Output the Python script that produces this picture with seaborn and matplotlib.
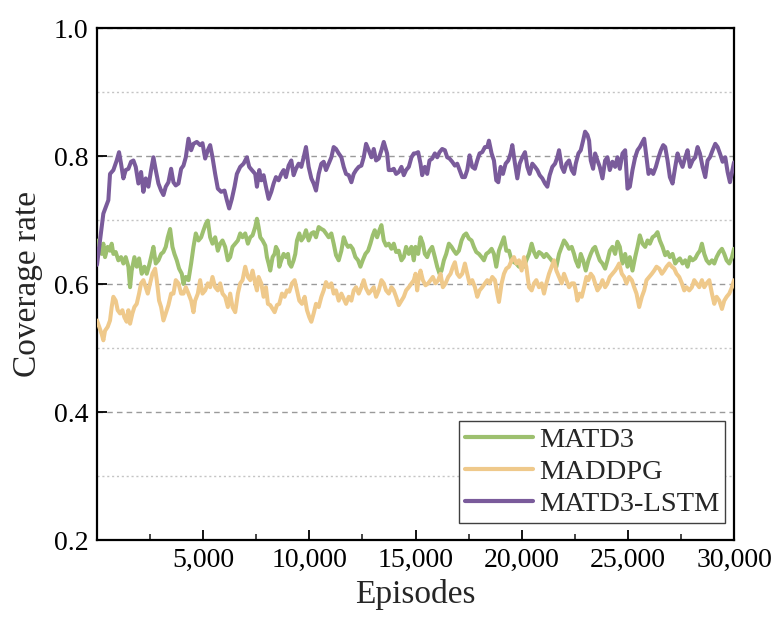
import matplotlib
matplotlib.use("Agg")
import matplotlib.pyplot as plt
import matplotlib.ticker as mticker
import seaborn as sns
import pandas as pd

# ---------------- data (episode, coverage rate) ----------------
matd3_points = [
    (0, 0.668), (220, 0.647), (299, 0.663), (378, 0.642), (503, 0.658), (613, 0.652), (692, 0.663), (771, 0.647), (881, 0.650), (1006, 0.637),
    (1132, 0.642), (1242, 0.632), (1352, 0.642), (1478, 0.627), (1557, 0.595), (1635, 0.621), (1761, 0.642), (1871, 0.627), (1981, 0.640), (2107, 0.616),
    (2233, 0.627), (2343, 0.616), (2453, 0.629), (2547, 0.642), (2657, 0.658), (2767, 0.632), (2893, 0.637), (3019, 0.647), (3129, 0.650), (3239, 0.658),
    (3333, 0.673), (3443, 0.686), (3553, 0.658), (3647, 0.647), (3757, 0.637), (3867, 0.624), (3993, 0.616), (4072, 0.600), (4182, 0.611), (4308, 0.606),
    (4433, 0.632), (4543, 0.658), (4653, 0.679), (4779, 0.668), (4905, 0.673), (5015, 0.684), (5125, 0.694), (5219, 0.699), (5329, 0.673), (5439, 0.663),
    (5565, 0.673), (5691, 0.652), (5801, 0.663), (5911, 0.668), (6036, 0.658), (6162, 0.637), (6272, 0.642), (6382, 0.658), (6509, 0.663), (6634, 0.668),
    (6744, 0.679), (6854, 0.673), (6980, 0.679), (7106, 0.663), (7216, 0.673), (7326, 0.676), (7451, 0.689),
    (7532, 0.702), (7610, 0.689), (7689, 0.673), (7799, 0.668), (7925, 0.660), (8003, 0.642), (8082, 0.632), (8160, 0.621), (8270, 0.642), (8365, 0.647),
    (8428, 0.658), (8522, 0.652), (8585, 0.627), (8679, 0.637), (8789, 0.647), (8899, 0.642), (8994, 0.647), (9056, 0.632), (9151, 0.627), (9261, 0.637),
    (9339, 0.647), (9418, 0.668), (9528, 0.679), (9622, 0.668), (9733, 0.673), (9842, 0.684), (9968, 0.668), (10094, 0.679), (10204, 0.681), (10314, 0.673),
    (10440, 0.689), (10566, 0.686), (10676, 0.684), (10786, 0.679), (10911, 0.673), (11037, 0.679), (11147, 0.663), (11257, 0.645), (11383, 0.637), (11509, 0.652),
    (11619, 0.673), (11729, 0.663), (11823, 0.658), (11933, 0.660), (12043, 0.655), (12169, 0.642), (12295, 0.637), (12405, 0.627), (12515, 0.637), (12641, 0.647),
    (12766, 0.652), (12876, 0.663), (12986, 0.676), (13081, 0.684), (13191, 0.673), (13301, 0.684), (13395, 0.692), (13505, 0.668), (13615, 0.660), (13741, 0.663),
    (13867, 0.655), (13977, 0.663), (14087, 0.650), (14213, 0.652), (14338, 0.637), (14448, 0.642), (14558, 0.658), (14684, 0.647), (14810, 0.658), (14920, 0.637),
    (15000, 0.658), (15126, 0.647), (15236, 0.673), (15346, 0.663), (15440, 0.647), (15550, 0.642), (15660, 0.652), (15786, 0.658), (15912, 0.642), (16022, 0.627),
    (16132, 0.616), (16226, 0.621), (16336, 0.637), (16446, 0.647), (16572, 0.663), (16698, 0.658), (16808, 0.652), (16918, 0.647), (17044, 0.652), (17169, 0.668),
    (17279, 0.676), (17389, 0.679), (17515, 0.671), (17641, 0.668), (17751, 0.658), (17861, 0.650), (17987, 0.647), (18113, 0.642), (18223, 0.637), (18333, 0.647),
    (18458, 0.650), (18584, 0.655), (18694, 0.647), (18804, 0.627), (18930, 0.652), (19056, 0.663), (19166, 0.673), (19276, 0.652), (19402, 0.652), (19527, 0.637),
    (19637, 0.634), (19747, 0.632), (19873, 0.627), (19999, 0.629), (20109, 0.627), (20219, 0.637), (20345, 0.647), (20471, 0.663), (20581, 0.650), (20691, 0.642),
    (20816, 0.650), (20942, 0.647), (21052, 0.642), (21162, 0.647), (21288, 0.642), (21414, 0.637), (21524, 0.632), (21634, 0.627), (21760, 0.647), (21885, 0.658),
    (21995, 0.668), (22105, 0.663), (22231, 0.655), (22357, 0.658), (22467, 0.647),
    (22547, 0.637), (22673, 0.627), (22783, 0.647), (22893, 0.637), (23019, 0.621), (23144, 0.637), (23254, 0.647), (23364, 0.655), (23459, 0.658), (23569, 0.647),
    (23679, 0.637), (23805, 0.632), (23930, 0.624), (24040, 0.637), (24150, 0.652), (24276, 0.658), (24402, 0.647), (24512, 0.666), (24622, 0.658), (24748, 0.632),
    (24874, 0.647), (24984, 0.627), (25094, 0.642), (25219, 0.621), (25345, 0.642), (25455, 0.658), (25565, 0.676), (25691, 0.663), (25817, 0.658), (25927, 0.668),
    (26037, 0.663), (26163, 0.673), (26288, 0.676), (26398, 0.681), (26508, 0.668), (26634, 0.658), (26760, 0.645), (26870, 0.650), (26980, 0.642), (27106, 0.647),
    (27232, 0.632), (27342, 0.637), (27452, 0.640), (27577, 0.632), (27703, 0.637), (27813, 0.627), (27923, 0.642), (28049, 0.637), (28175, 0.640), (28285, 0.647),
    (28395, 0.652), (28489, 0.663), (28599, 0.647), (28709, 0.637), (28835, 0.632), (28961, 0.637), (29071, 0.632), (29181, 0.642), (29307, 0.650), (29432, 0.655),
    (29542, 0.647), (29652, 0.637), (29778, 0.632), (29904, 0.642), (30000, 0.655),
]

maddpg_points = [
    (0, 0.543), (220, 0.522), (299, 0.512), (378, 0.527), (503, 0.533), (613, 0.543), (692, 0.564), (771, 0.580), (881, 0.574), (975, 0.559),
    (1085, 0.554), (1195, 0.559), (1289, 0.548), (1399, 0.541), (1478, 0.559), (1557, 0.538), (1667, 0.554), (1761, 0.564), (1871, 0.569), (1981, 0.585),
    (2075, 0.601), (2185, 0.606), (2295, 0.595), (2390, 0.585), (2500, 0.601), (2610, 0.616), (2736, 0.624), (2814, 0.606), (2924, 0.574), (3019, 0.564),
    (3129, 0.543), (3239, 0.554), (3364, 0.567), (3490, 0.585), (3600, 0.585), (3710, 0.606), (3836, 0.601), (3962, 0.585), (4072, 0.585), (4182, 0.595),
    (4308, 0.585), (4433, 0.574), (4543, 0.556), (4622, 0.574), (4748, 0.585), (4858, 0.606), (4968, 0.585), (5094, 0.590), (5219, 0.601), (5329, 0.595),
    (5439, 0.611), (5565, 0.595), (5691, 0.590), (5801, 0.601), (5911, 0.585), (6036, 0.580), (6162, 0.564), (6272, 0.585), (6382, 0.564), (6509, 0.556),
    (6634, 0.585), (6744, 0.601), (6854, 0.606), (6980, 0.627), (7106, 0.611), (7216, 0.606), (7326, 0.621), (7451, 0.601),
    (7532, 0.590), (7610, 0.611), (7736, 0.601), (7846, 0.580), (7956, 0.595), (8050, 0.569), (8160, 0.567), (8270, 0.561), (8365, 0.556), (8475, 0.567),
    (8585, 0.569), (8711, 0.585), (8836, 0.580), (8946, 0.590), (9056, 0.588), (9182, 0.601), (9308, 0.606), (9418, 0.590), (9528, 0.574), (9654, 0.569),
    (9780, 0.580), (9890, 0.559), (10000, 0.548), (10094, 0.541), (10204, 0.554), (10314, 0.569), (10440, 0.564), (10566, 0.580), (10676, 0.590), (10786, 0.603),
    (10911, 0.595), (11037, 0.601), (11147, 0.585), (11257, 0.590), (11383, 0.574), (11509, 0.585), (11619, 0.577), (11729, 0.569), (11855, 0.580), (11980, 0.574),
    (12090, 0.590), (12200, 0.595), (12326, 0.585), (12452, 0.595), (12562, 0.606), (12672, 0.593), (12798, 0.585), (12924, 0.590), (13034, 0.595), (13144, 0.580),
    (13270, 0.590), (13395, 0.606), (13505, 0.601), (13615, 0.590), (13741, 0.585), (13867, 0.595), (13977, 0.590), (14087, 0.580), (14213, 0.567), (14338, 0.574),
    (14448, 0.580), (14558, 0.590), (14684, 0.595), (14810, 0.601), (14920, 0.606),
    (15000, 0.616), (15079, 0.590), (15157, 0.611), (15236, 0.621), (15346, 0.606), (15472, 0.598), (15597, 0.601), (15707, 0.606), (15817, 0.611), (15943, 0.601),
    (16069, 0.606), (16179, 0.616), (16289, 0.595), (16415, 0.601), (16541, 0.611), (16651, 0.616), (16761, 0.627), (16855, 0.634), (16965, 0.616), (17075, 0.611),
    (17201, 0.616), (17327, 0.632), (17437, 0.616), (17547, 0.601), (17672, 0.606), (17798, 0.595), (17908, 0.580), (18018, 0.590), (18144, 0.595), (18270, 0.601),
    (18380, 0.606), (18490, 0.601), (18616, 0.611), (18741, 0.606), (18851, 0.585), (18930, 0.572), (19056, 0.601), (19166, 0.616), (19276, 0.624), (19402, 0.627),
    (19527, 0.637), (19637, 0.642), (19747, 0.632), (19873, 0.637), (19999, 0.621), (20109, 0.642), (20219, 0.627), (20345, 0.595), (20471, 0.590), (20581, 0.601),
    (20691, 0.606), (20816, 0.595), (20942, 0.601), (21052, 0.585), (21162, 0.601), (21288, 0.616), (21414, 0.627), (21524, 0.637), (21634, 0.621), (21760, 0.611),
    (21885, 0.601), (21995, 0.616), (22105, 0.606), (22231, 0.595), (22357, 0.601), (22467, 0.601),
    (22547, 0.590), (22626, 0.574), (22736, 0.585), (22830, 0.580), (22940, 0.595), (23050, 0.611), (23144, 0.606), (23254, 0.616), (23364, 0.611), (23459, 0.601),
    (23569, 0.590), (23679, 0.595), (23805, 0.606), (23930, 0.595), (24040, 0.601), (24150, 0.611), (24276, 0.616), (24402, 0.621), (24512, 0.627), (24591, 0.632),
    (24716, 0.616), (24826, 0.611), (24936, 0.601), (25062, 0.611), (25188, 0.606), (25298, 0.595), (25408, 0.585), (25534, 0.564), (25660, 0.580), (25770, 0.590),
    (25880, 0.606), (26005, 0.611), (26131, 0.616), (26241, 0.621), (26351, 0.627), (26477, 0.624), (26603, 0.616), (26713, 0.621), (26823, 0.627), (26949, 0.632),
    (27075, 0.627), (27185, 0.624), (27294, 0.616), (27420, 0.611), (27546, 0.601), (27656, 0.590), (27766, 0.595), (27892, 0.590), (28017, 0.595), (28127, 0.606),
    (28237, 0.601), (28363, 0.595), (28489, 0.606), (28599, 0.595), (28709, 0.601), (28835, 0.606), (28961, 0.585), (29071, 0.569), (29181, 0.580), (29307, 0.574),
    (29432, 0.561), (29542, 0.574), (29652, 0.580), (29778, 0.585), (29904, 0.595), (30000, 0.606),
]

matd3_lstm_points = [
    (0, 0.630), (299, 0.710), (535, 0.731), (613, 0.772), (771, 0.778), (928, 0.793), (1038, 0.806), (1132, 0.788), (1242, 0.765), (1352, 0.778),
    (1478, 0.780), (1604, 0.791), (1714, 0.793), (1824, 0.783), (1950, 0.757), (2075, 0.775), (2185, 0.744), (2295, 0.765), (2421, 0.752), (2547, 0.778),
    (2657, 0.798), (2767, 0.778), (2893, 0.757), (3019, 0.746), (3129, 0.739), (3239, 0.752), (3364, 0.759), (3490, 0.780), (3600, 0.759), (3710, 0.754),
    (3836, 0.757), (3962, 0.780), (4072, 0.785), (4182, 0.798), (4308, 0.827), (4433, 0.809), (4543, 0.819), (4701, 0.822), (4858, 0.817), (4968, 0.820),
    (5094, 0.796), (5219, 0.809), (5329, 0.817), (5439, 0.798), (5565, 0.772), (5691, 0.749), (5848, 0.744), (6005, 0.746), (6115, 0.731), (6225, 0.718),
    (6351, 0.733), (6477, 0.752), (6587, 0.772), (6744, 0.783), (6902, 0.788), (7059, 0.798), (7169, 0.783), (7294, 0.778), (7451, 0.772),
    (7532, 0.752), (7642, 0.778), (7736, 0.762), (7846, 0.770), (7956, 0.752), (8082, 0.733), (8208, 0.744), (8318, 0.757), (8428, 0.767), (8553, 0.762),
    (8679, 0.772), (8789, 0.778), (8899, 0.767), (9025, 0.785), (9151, 0.793), (9261, 0.770), (9371, 0.780), (9497, 0.788), (9622, 0.783), (9733, 0.798),
    (9842, 0.814), (9968, 0.783), (10094, 0.765), (10204, 0.757), (10314, 0.746), (10440, 0.772), (10566, 0.788), (10676, 0.791), (10786, 0.778), (10911, 0.788),
    (11037, 0.798), (11147, 0.814), (11257, 0.811), (11383, 0.804), (11509, 0.798), (11619, 0.783), (11729, 0.772), (11855, 0.770), (11980, 0.759), (12090, 0.772),
    (12200, 0.778), (12326, 0.783), (12452, 0.785), (12562, 0.798), (12672, 0.819), (12798, 0.809), (12924, 0.798), (13034, 0.811), (13144, 0.793), (13270, 0.796),
    (13395, 0.809), (13505, 0.822), (13662, 0.804), (13741, 0.778), (13867, 0.778), (13977, 0.780), (14087, 0.772), (14213, 0.775), (14338, 0.783), (14448, 0.770),
    (14558, 0.778), (14684, 0.783), (14810, 0.798), (14920, 0.804),
    (15000, 0.804), (15126, 0.806), (15236, 0.788), (15314, 0.770), (15440, 0.783), (15550, 0.772), (15660, 0.793), (15786, 0.796), (15912, 0.804), (16022, 0.798),
    (16132, 0.806), (16258, 0.811), (16383, 0.809), (16493, 0.798), (16603, 0.796), (16729, 0.791), (16855, 0.785), (16965, 0.788), (17075, 0.778), (17201, 0.767),
    (17327, 0.767), (17437, 0.778), (17547, 0.801), (17672, 0.783), (17798, 0.780), (17908, 0.793), (18018, 0.804), (18144, 0.806), (18270, 0.814), (18380, 0.814),
    (18458, 0.824), (18584, 0.804), (18694, 0.793), (18804, 0.762), (18899, 0.759), (19009, 0.783), (19119, 0.772), (19244, 0.788), (19370, 0.793), (19480, 0.804),
    (19559, 0.817), (19685, 0.788), (19795, 0.765), (19905, 0.788), (20030, 0.798), (20156, 0.806), (20266, 0.783), (20376, 0.772), (20502, 0.788), (20628, 0.783),
    (20738, 0.778), (20848, 0.770), (20974, 0.765), (21099, 0.757), (21209, 0.752), (21319, 0.770), (21445, 0.783), (21571, 0.788), (21681, 0.798), (21760, 0.809),
    (21885, 0.783), (21995, 0.775), (22105, 0.788), (22231, 0.793), (22357, 0.778), (22467, 0.772),
    (22547, 0.788), (22673, 0.804), (22783, 0.809), (22893, 0.824), (22987, 0.838), (23097, 0.833), (23176, 0.824), (23254, 0.793), (23364, 0.780), (23459, 0.804),
    (23569, 0.793), (23679, 0.783), (23805, 0.765), (23930, 0.793), (24040, 0.798), (24150, 0.778), (24276, 0.791), (24402, 0.783), (24512, 0.798), (24622, 0.780),
    (24748, 0.804), (24874, 0.809), (24984, 0.749), (25094, 0.752), (25219, 0.778), (25345, 0.798), (25455, 0.809), (25565, 0.814), (25691, 0.822), (25770, 0.827),
    (25848, 0.806), (25974, 0.772), (26084, 0.778), (26194, 0.772), (26320, 0.783), (26446, 0.798), (26556, 0.809), (26666, 0.817), (26760, 0.814), (26870, 0.793),
    (26980, 0.767), (27106, 0.757), (27232, 0.783), (27342, 0.804), (27452, 0.793), (27577, 0.783), (27703, 0.798), (27813, 0.809), (27923, 0.783), (28049, 0.793),
    (28175, 0.798), (28285, 0.814), (28395, 0.804), (28521, 0.783), (28646, 0.767), (28756, 0.793), (28866, 0.798), (28992, 0.809), (29118, 0.819), (29228, 0.814),
    (29338, 0.804), (29463, 0.791), (29589, 0.798), (29699, 0.775), (29809, 0.759), (29935, 0.780), (30000, 0.790),
]

series_names = ["MATD3", "MADDPG", "MATD3-LSTM"]
series_colors = ["#9dc06f", "#efc98b", "#7a5b9b"]
x_tick_values = [5000, 10000, 15000, 20000, 25000, 30000]
y_tick_values = [0.2, 0.4, 0.6, 0.8, 1.0]

# ---------------- build long table ----------------
frames = []
for name, pts in zip(series_names, [matd3_points, maddpg_points, matd3_lstm_points]):
    frames.append(pd.DataFrame({"Episodes": [p[0] for p in pts],
                                "Coverage rate": [p[1] for p in pts],
                                "Method": name}))
df = pd.concat(frames, ignore_index=True)

sns.set_style("ticks")
plt.rcParams["font.family"] = ["Liberation Serif", "DejaVu Serif"]

fig = plt.figure(figsize=(7.76, 6.21), dpi=100)
ax = fig.add_axes([97 / 776, 1 - 540 / 621, 637 / 776, 512 / 621])

sns.lineplot(data=df, x="Episodes", y="Coverage rate", hue="Method",
             hue_order=series_names, palette=dict(zip(series_names, series_colors)),
             estimator=None, sort=True, linewidth=2.9, ax=ax, zorder=3)

ax.set_xlim(0, 30000)
ax.set_ylim(0.2, 1.0)
ax.set_xticks(x_tick_values)
ax.xaxis.set_major_formatter(mticker.FuncFormatter(lambda v, p: f"{int(v):,}"))
ax.xaxis.set_minor_locator(mticker.MultipleLocator(2500))
ax.set_yticks(y_tick_values)
ax.yaxis.set_major_formatter(mticker.FormatStrFormatter("%.1f"))
ax.yaxis.set_minor_locator(mticker.MultipleLocator(0.1))

ax.tick_params(axis="both", which="major", direction="in", length=7, width=1.3,
               labelsize=20, colors="black", pad=6)
ax.tick_params(axis="x", which="minor", direction="in", length=4, width=1.2)
ax.tick_params(axis="y", which="minor", length=0)

ax.grid(axis="y", which="major", color="#9a9a9a", linestyle=(0, (4, 3)), linewidth=1.0, zorder=0)
ax.grid(axis="y", which="minor", color="#c4c4c4", linestyle=(0, (1.5, 2)), linewidth=1.0, zorder=0)
ax.set_axisbelow(True)

for s in ax.spines.values():
    s.set_visible(True)
    s.set_linewidth(1.6)
    s.set_color("black")

ax.set_xlabel("Episodes", fontsize=24, labelpad=4)
ax.set_ylabel("Coverage rate", fontsize=24, labelpad=8)

leg = ax.legend(loc="lower right", bbox_to_anchor=(0.986, 0.033), borderaxespad=0,
                fontsize=20.5, frameon=True, fancybox=False, framealpha=1,
                edgecolor="#404040", borderpad=0.2, labelspacing=0.22,
                handlelength=2.4, handletextpad=0.2)
leg.get_frame().set_linewidth(1.0)
for line in leg.get_lines():
    line.set_linewidth(3.0)

fig.savefig("out.png", dpi=100)
